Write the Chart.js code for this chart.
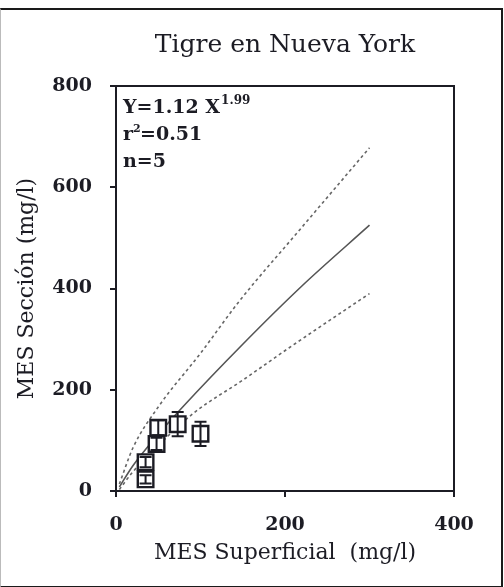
<!DOCTYPE html>
<html>
<head>
<meta charset="utf-8">
<script src="https://cdn.jsdelivr.net/npm/chart.js@4.4.0/dist/chart.umd.min.js"></script>
<style>
  html, body { margin: 0; padding: 0; background: #fff; }
  #wrap { position: relative; width: 504px; height: 587px; }
  #frame {
    position: absolute; left: 0; top: 8px; width: 500px; height: 576px;
    border-top: 2px solid #1a1a1a; border-right: 2px solid #1a1a1a;
    border-bottom: 2px solid #1a1a1a; border-left: 1px solid #bbb;
    pointer-events: none;
  }
</style>
</head>
<body>
<div id="wrap">
  <canvas id="chart" width="504" height="587"></canvas>
  <div id="frame"></div>
</div>
<script>
// data
const pointX = [35, 35, 48, 50, 73, 100];
const pointY = [23, 57, 93, 125, 132, 113];
const pointErr = [8, 10, 12, 15, 24, 24];

const fitX = [4, 20, 50, 80, 150, 220, 300];
const fitY = [8, 50, 112, 168, 290, 405, 525];

const upperX = [4, 20, 50, 100, 145, 220, 300];
const upperY = [14, 85, 166, 272, 373, 521, 678];

const lowerX = [4, 20, 50, 92, 150, 205, 300];
const lowerY = [3, 38, 90, 154, 219, 283, 390];

const xTicks = [0, 200, 400];
const yTicks = [0, 200, 400, 600, 800];

const ink = '#1c1c24';
const tickFont = { family: 'DejaVu Serif', size: 19, weight: 'bold' };
const titleFont = { family: 'DejaVu Serif', size: 22, weight: 'normal' };

const toXY = (xs, ys) => xs.map((x, i) => ({ x: x, y: ys[i] }));

// vertical error bars on the squares
const errorBars = {
  id: 'errorBars',
  afterDatasetsDraw(chart) {
    const ctx = chart.ctx;
    const xs = chart.scales.x, ys = chart.scales.y;
    ctx.save();
    ctx.strokeStyle = ink;
    ctx.lineWidth = 2;
    pointX.forEach((x, i) => {
      const px = xs.getPixelForValue(x);
      const top = ys.getPixelForValue(pointY[i] + pointErr[i]);
      const bot = ys.getPixelForValue(pointY[i] - pointErr[i]);
      ctx.beginPath();
      ctx.moveTo(px, top); ctx.lineTo(px, bot);
      ctx.moveTo(px - 6, top); ctx.lineTo(px + 6, top);
      ctx.moveTo(px - 6, bot); ctx.lineTo(px + 6, bot);
      ctx.stroke();
    });
    ctx.restore();
  }
};

// box border + equation text
const boxAndNotes = {
  id: 'boxAndNotes',
  afterDraw(chart) {
    const ctx = chart.ctx;
    const a = chart.chartArea;
    ctx.save();
    ctx.strokeStyle = ink;
    ctx.lineWidth = 2;
    ctx.beginPath();
    ctx.moveTo(a.left, a.top);
    ctx.lineTo(a.right, a.top);
    ctx.lineTo(a.right, a.bottom);
    ctx.stroke();

    ctx.fillStyle = ink;
    ctx.textBaseline = 'middle';
    ctx.font = 'bold 19px "DejaVu Serif"';
    const x0 = a.left + 7;
    const t1 = 'Y=1.12 X';
    ctx.fillText(t1, x0, a.top + 22);
    const w1 = ctx.measureText(t1).width;
    ctx.font = 'bold 12px "DejaVu Serif"';
    ctx.fillText('1.99', x0 + w1 + 1, a.top + 15);

    ctx.font = 'bold 19px "DejaVu Serif"';
    ctx.fillText('r', x0, a.top + 49);
    const wr = ctx.measureText('r').width;
    ctx.font = 'bold 11px "DejaVu Serif"';
    ctx.fillText('2', x0 + wr, a.top + 43);
    ctx.font = 'bold 19px "DejaVu Serif"';
    ctx.fillText('=0.51', x0 + wr + 7, a.top + 49);

    ctx.fillText('n=5', x0, a.top + 76);
    ctx.restore();
  }
};

new Chart(document.getElementById('chart'), {
  type: 'scatter',
  data: {
    datasets: [
      {
        label: 'Datos',
        data: toXY(pointX, pointY),
        pointStyle: 'rect',
        pointRadius: 11,
        pointHoverRadius: 11,
        borderColor: ink,
        borderWidth: 2.4,
        backgroundColor: '#fff',
        showLine: false
      },
      {
        label: 'Ajuste',
        data: toXY(fitX, fitY),
        showLine: true,
        borderColor: '#555',
        borderWidth: 1.6,
        pointRadius: 0,
        cubicInterpolationMode: 'monotone'
      },
      {
        label: 'Superior',
        data: toXY(upperX, upperY),
        showLine: true,
        borderColor: '#666',
        borderWidth: 1.6,
        borderDash: [3, 3],
        pointRadius: 0,
        cubicInterpolationMode: 'monotone'
      },
      {
        label: 'Inferior',
        data: toXY(lowerX, lowerY),
        showLine: true,
        borderColor: '#666',
        borderWidth: 1.6,
        borderDash: [3, 3],
        pointRadius: 0,
        cubicInterpolationMode: 'monotone'
      }
    ]
  },
  options: {
    responsive: false,
    animation: false,
    layout: { padding: { left: 0, right: 50, top: 0, bottom: 0 } },
    plugins: {
      legend: { display: false },
      tooltip: { enabled: false },
      title: {
        display: true,
        fullSize: false,
        text: 'Tigre en Nueva York',
        color: ink,
        font: { family: 'DejaVu Serif', size: 25, weight: 'normal' },
        padding: { top: 30, bottom: 26 }
      }
    },
    scales: {
      x: {
        type: 'linear',
        min: 0,
        max: 400,
        afterBuildTicks: s => { s.ticks = xTicks.map(v => ({ value: v })); },
        afterFit: s => { s.height = 96; },
        ticks: { color: ink, font: tickFont, padding: 17, maxRotation: 0 },
        grid: { drawOnChartArea: false, drawTicks: true, tickLength: 6, color: ink, lineWidth: 2 },
        border: { display: true, color: ink, width: 2 },
        title: { display: true, text: 'MES Superficial  (mg/l)', color: ink, font: titleFont, padding: { top: 0, bottom: 21 } }
      },
      y: {
        type: 'linear',
        min: 0,
        max: 800,
        afterBuildTicks: s => { s.ticks = yTicks.map(v => ({ value: v })); },
        afterFit: s => { s.width = 116; },
        ticks: { color: ink, font: tickFont, padding: 18 },
        grid: { drawOnChartArea: false, drawTicks: true, tickLength: 6, color: ink, lineWidth: 2 },
        border: { display: true, color: ink, width: 2 },
        title: { display: true, text: 'MES Sección (mg/l)', color: ink, font: titleFont, padding: { top: 14, bottom: 0 } }
      }
    }
  },
  plugins: [errorBars, boxAndNotes]
});
</script>
</body>
</html>
